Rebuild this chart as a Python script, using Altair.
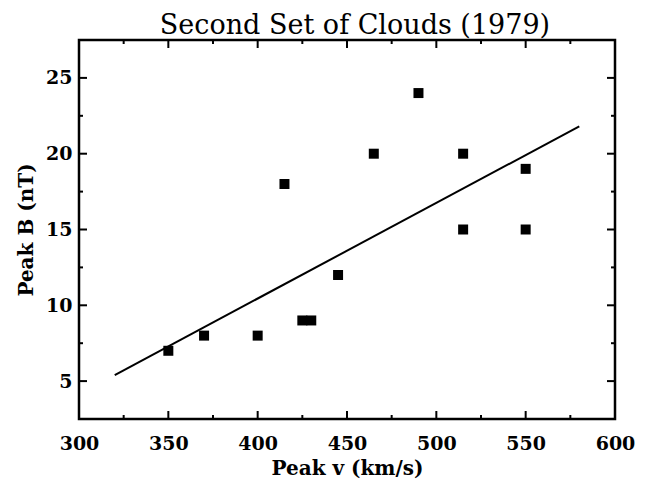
import altair as alt
import pandas as pd

# Data
peak_v = [350, 370, 400, 415, 425, 430, 445, 465, 490, 515, 515, 550, 550]
peak_b = [7, 8, 8, 18, 9, 9, 12, 20, 24, 20, 15, 19, 15]

fit_v = [320, 580]
fit_b = [5.4, 21.8]

x_labels = [300, 350, 400, 450, 500, 550, 600]
y_labels = [5, 10, 15, 20, 25]
x_major = [350, 400, 450, 500, 550]
x_minor = [325, 375, 425, 475, 525, 575]
y_major = [5, 10, 15, 20, 25]
y_minor = [7.5, 12.5, 17.5, 22.5]

W, H = 536, 379
MAJ, MIN = 8, 4

pts = pd.DataFrame({"v": peak_v, "b": peak_b})
fit = pd.DataFrame({"v": fit_v, "b": fit_b})

xs = alt.Scale(domain=[300, 600], nice=False, zero=False)
ys = alt.Scale(domain=[2.5, 27.5], nice=False, zero=False)

LABEL_FONT = "DejaVu Serif"

xaxis = alt.Axis(values=x_labels, ticks=False, tickSize=0, domain=False, grid=False,
                 labelFont=LABEL_FONT, labelFontWeight="bold", labelFontSize=19,
                 labelColor="black", labelPadding=15, labelFlush=False,
                 title="Peak v (km/s)", titleFont=LABEL_FONT, titleFontWeight="bold",
                 titleFontSize=20, titleColor="black", titlePadding=5)
yaxis = alt.Axis(values=y_labels, ticks=False, tickSize=0, domain=False, grid=False,
                 labelFont=LABEL_FONT, labelFontWeight="bold", labelFontSize=19,
                 labelColor="black", labelPadding=7, labelFlush=False,
                 title="Peak B (nT)", titleFont=LABEL_FONT, titleFontWeight="bold",
                 titleFontSize=20, titleColor="black", titlePadding=9)

X = alt.X("v:Q", scale=xs, axis=xaxis)
Y = alt.Y("b:Q", scale=ys, axis=yaxis)

points = alt.Chart(pts).mark_square(size=100, color="black", opacity=1, filled=True).encode(x=X, y=Y)

line = alt.Chart(fit).mark_line(color="black", strokeWidth=2).encode(x=X, y=Y)


def xticks(vals, length):
    df = pd.DataFrame({"v": vals})
    base = alt.Chart(df).mark_rule(color="black", strokeWidth=2)
    bottom = base.encode(x=X, y=alt.value(H), y2=alt.value(H - length))
    top = base.encode(x=X, y=alt.value(0), y2=alt.value(length))
    return [bottom, top]


def yticks(vals, length):
    df = pd.DataFrame({"b": vals})
    base = alt.Chart(df).mark_rule(color="black", strokeWidth=2)
    left = base.encode(y=Y, x=alt.value(0), x2=alt.value(length))
    right = base.encode(y=Y, x=alt.value(W), x2=alt.value(W - length))
    return [left, right]


tick_layers = xticks(x_major, MAJ) + xticks(x_minor, MIN) + yticks(y_major, MAJ) + yticks(y_minor, MIN)

chart = alt.layer(points, line, *tick_layers).properties(
    width=W, height=H,
    autosize="none",
    padding={"left": 71, "top": 32, "right": 22, "bottom": 60},
    title=alt.Title("Second Set of Clouds (1979)", font="DejaVu Serif", fontSize=27,
                    fontWeight="normal", color="black", anchor="middle", frame="group",
                    offset=-1, dx=8),
).configure(background="white").configure_view(stroke="black", strokeWidth=2.5)

chart.save("out.html", embed_options={"renderer": "svg", "actions": False})
